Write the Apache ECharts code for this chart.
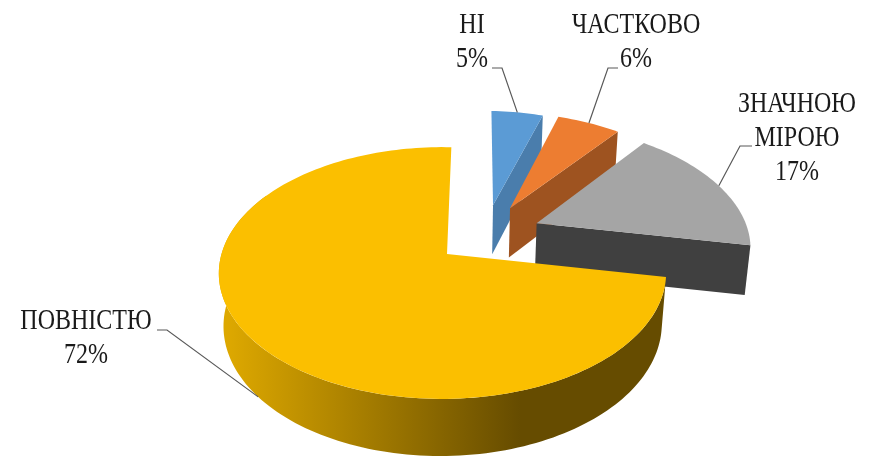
<!DOCTYPE html>
<html>
<head>
<meta charset="utf-8">
<style>html,body{margin:0;padding:0;background:#fff}#c{width:874px;height:457px}</style>
<script src="https://cdn.jsdelivr.net/npm/echarts@6/dist/echarts.min.js"></script>
</head>
<body>
<div id="c"></div>
<script>
// ---- data (labels round them) ----
const categories = ['НІ', 'ЧАСТКОВО', 'ЗНАЧНОЮ\nМІРОЮ', 'ПОВНІСТЮ'];
const values = [4.6, 5.6, 17.4, 72.4];

// ---- styling ----
const topColors = ['#5B9BD5', '#ED7D31', '#A5A5A5', '#FBBF00'];
const sideColors = ['#4A7DAC', '#9E5320', '#404040', '#FBBF00'];

// ---- layout: projection of the tilted pie ----
const view = {x0: 447, y0: 254, a: 221, b: 123, depth: 52.5, tilt: 0.151, pan: 0.02, shrink: 0.02};
const startAngle = 1.3;
const explodeU = [0.2225, 0.304, 0.425, 0];
const explodeV = [-0.4236, -0.3964, -0.262, 0];
const radius = [0.995, 1.01, 1.02, 1];
const labelPos = [[472, 42], [636, 42], [797, 138], [86, 338]];
const leaderFrom = [[[492, 68], [502, 68]], [[618, 68], [608, 68]], [[752, 146], [740, 146]], [[157, 330], [167, 330]]];
const leaderW = [0, 0, 0, 1];

function project(u, v, w) {
  const d = 1 - view.tilt * v + view.pan * u + view.shrink * w;
  return [view.x0 + view.a * u / d, view.y0 + (view.b * v + view.depth * w) / d];
}
const total = values.reduce((s, x) => s + x, 0);

function renderSlice(params, api) {
  const i = params.dataIndex;
  let before = 0;
  for (let k = 0; k < i; k++) before += values[k];
  const val = api.value(0);
  const a0 = startAngle + before / total * 360;
  const a1 = a0 + val / total * 360;
  const rad = d => d * Math.PI / 180;
  const ou = explodeU[i], ov = explodeV[i], r = radius[i];
  const rim = (ang, w) => project(ou + r * Math.sin(rad(ang)), ov - r * Math.cos(rad(ang)), w);
  const apex = w => project(ou, ov, w);
  const arc = (from, to, w) => {
    const n = Math.max(2, Math.ceil(Math.abs(to - from) / 1.5));
    const pts = [];
    for (let k = 0; k <= n; k++) pts.push(rim(from + (to - from) * k / n, w));
    return pts;
  };
  const children = [];
  if (i === 3) {
    // outer wall, shaded left to right
    const upper = arc(a0, 300, 0), lower = arc(a0, 300, 1).reverse();
    children.push({
      type: 'polygon', shape: {points: upper.concat(lower)},
      style: {fill: new echarts.graphic.LinearGradient(228, 0, 520, 0, [
        {offset: 0, color: '#DDA800'}, {offset: 1, color: '#664C00'}], true)}
    });
  } else {
    // cut face at the clockwise end of the slice
    children.push({
      type: 'polygon',
      shape: {points: [apex(0), rim(a1, 0), rim(a1, 1), apex(1)]},
      style: {fill: sideColors[i]}
    });
  }
  children.push({
    type: 'polygon', shape: {points: [apex(0)].concat(arc(a0, a1, 0))},
    style: {fill: topColors[i]}
  });
  return {type: 'group', children};
}

function renderLabel(params, api) {
  const i = params.dataIndex;
  let before = 0;
  for (let k = 0; k < i; k++) before += values[k];
  const val = api.value(0);
  const mid = startAngle + (before + val / 2) / total * 360;
  const m = mid * Math.PI / 180;
  const end = project(explodeU[i] + radius[i] * Math.sin(m), explodeV[i] - radius[i] * Math.cos(m), leaderW[i]);
  const pct = Math.round(val / total * 100) + '%';
  return {
    type: 'group',
    children: [
      {type: 'polyline', shape: {points: leaderFrom[i].concat([end])},
       style: {stroke: '#595959', lineWidth: 1.2, fill: null}},
      {type: 'text', x: labelPos[i][0], y: labelPos[i][1], scaleY: 1.25,
       style: {text: api.value(1) + '\n' + pct, align: 'center', verticalAlign: 'middle',
               font: '24px "Liberation Serif"', lineHeight: 27.2, fill: '#1a1a1a'}}
    ]
  };
}

const chart = echarts.init(document.getElementById('c'), null, {renderer: 'canvas'});
const rows = values.map((v, i) => [v, categories[i]]);
chart.setOption({
  animation: false,
  backgroundColor: '#fff',
  series: [
    {type: 'custom', coordinateSystem: 'none', renderItem: renderSlice, data: rows, silent: true,
     dimensions: [{name: 'value', type: 'number'}, {name: 'name', type: 'ordinal'}]},
    {type: 'custom', coordinateSystem: 'none', renderItem: renderLabel, data: rows, silent: true, z: 3,
     dimensions: [{name: 'value', type: 'number'}, {name: 'name', type: 'ordinal'}]}
  ]
});
</script>
</body>
</html>
